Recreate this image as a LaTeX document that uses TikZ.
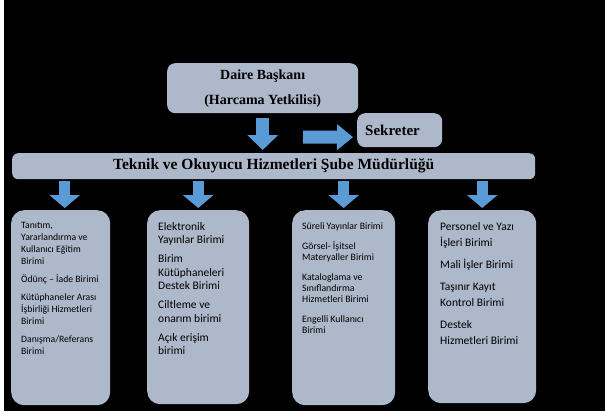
\documentclass[tikz,border=0pt]{standalone}
\usepackage{fontspec}
\setmainfont{Liberation Serif}
\newfontfamily\calib{Carlito}
\usetikzlibrary{arrows.meta,calc}
\definecolor{boxfill}{RGB}{173,185,202}
\definecolor{arrowblue}{RGB}{91,155,213}
\newcommand{\unitlist}[6]{\begin{minipage}[t][#2][t]{#1}\fontsize{#3}{#4}\selectfont\setlength{\parskip}{#5}\raggedright #6\end{minipage}}
\tikzset{
  headbox/.style={fill=boxfill,rounded corners=8pt,inner sep=0pt,anchor=north west,align=center},
  unitbox/.style={fill=boxfill,rounded corners=13pt,inner xsep=10pt,inner ysep=12pt,anchor=north west,font=\calib},
  bigdown/.style={arrowblue,line width=13pt,-{Triangle[width=30pt,length=15pt]}},
  bigright/.style={arrowblue,line width=13pt,-{Triangle[width=25pt,length=16pt]}},
  smalldown/.style={arrowblue,line width=11pt,-{Triangle[width=30pt,length=13pt]}},
}
\begin{document}
\begin{tikzpicture}[x=1pt,y=-1pt]
\fill[white] (0,0) rectangle (605,416);
\fill[black] (4,0) rectangle (605,411);
\node[headbox,minimum width=191pt,minimum height=50pt,font=\fontsize{14}{25}\selectfont\bfseries] (dB) at (167,63) {Daire Başkanı\\(Harcama Yetkilisi)};
\node[headbox,minimum height=34pt,text width=69pt,inner xsep=8pt,align=left,font=\fontsize{15}{18}\selectfont\bfseries] (sek) at (357,113) {Sekreter};
\node[headbox,rounded corners=6pt,minimum width=523pt,minimum height=26pt,font=\fontsize{15.5}{18}\selectfont\bfseries] (bar) at (12,153) {Teknik ve Okuyucu Hizmetleri Şube Müdürlüğü};
\node[unitbox] (u1) at (11,210) {\unitlist{79pt}{171pt}{9.7}{12}{6pt}{Tanıtım,\\Yararlandırma ve\\Kullanıcı Eğitim\\Birimi\par Ödünç – İade Birimi\par Kütüphaneler Arası\\İşbirliği Hizmetleri\\Birimi\par Danışma/Referans\\Birimi}};
\node[unitbox,inner xsep=11pt] (u2) at (147,210) {\unitlist{80pt}{170pt}{11.5}{13.5}{5.5pt}{Elektronik\\Yayınlar Birimi\par Birim\\Kütüphaneleri\\Destek Birimi\par Ciltleme ve\\onarım birimi\par Açık erişim\\birimi}};
\node[unitbox] (u3) at (292,210) {\unitlist{83pt}{171pt}{9.8}{11}{9pt}{Süreli Yayınlar Birimi\par Görsel- İşitsel\\Materyaller Birimi\par Kataloglama ve\\Sınıflandırma\\Hizmetleri Birimi\par Engelli Kullanıcı\\Birimi}};
\node[unitbox,inner xsep=12pt] (u4) at (428,210) {\unitlist{84pt}{169pt}{11.5}{16}{6pt}{Personel ve Yazı\\İşleri Birimi\par Mali İşler Birimi\par Taşınır Kayıt\\Kontrol Birimi\par Destek\\Hizmetleri Birimi}};
\coordinate (rstart) at (303,137);
\draw[bigdown] ([yshift=-5pt]dB.south) -- ([yshift=3pt]bar.north -| dB.south);
\draw[bigright] (rstart) -- ([xshift=-4pt,yshift=-7pt]sek.west);
\draw[smalldown] ($(bar.south -| u1.north)+(4pt,-2pt)$) -- ($(u1.north)+(4pt,2pt)$);
\draw[smalldown] ($(bar.south -| u2.north)+(0pt,-2pt)$) -- ($(u2.north)+(0pt,2pt)$);
\draw[smalldown] ($(bar.south -| u3.north)+(0pt,-2pt)$) -- ($(u3.north)+(0pt,2pt)$);
\draw[smalldown] ($(bar.south -| u4.north)+(0pt,-2pt)$) -- ($(u4.north)+(0pt,2pt)$);
\end{tikzpicture}
\end{document}
